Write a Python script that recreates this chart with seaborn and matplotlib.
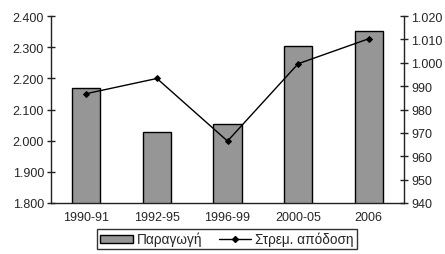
import matplotlib
matplotlib.use("Agg")
import matplotlib.pyplot as plt
import seaborn as sns
import pandas as pd
from matplotlib.ticker import FuncFormatter, FixedLocator
from matplotlib.patches import Patch
from matplotlib.lines import Line2D

categories = ["1990-91", "1992-95", "1996-99", "2000-05", "2006"]
production = [2.170, 2.027, 2.055, 2.303, 2.351]
yield_vals = [986.8, 993.3, 966.5, 999.6, 1010.3]
bar_label = "Παραγωγή"
line_label = "Στρεμ. απόδοση"

sns.set_style("white")
plt.rcParams['font.family'] = ['Liberation Sans', 'DejaVu Sans']

df = pd.DataFrame({"cat": categories, "prod": production, "yield": yield_vals})

fig = plt.figure(figsize=(4.45, 2.55), dpi=100)
ax = fig.add_axes([0.1146, 0.2, 0.908 - 0.1146, 0.733])
sns.barplot(data=df, x="cat", y="prod", ax=ax, color="#969696",
            edgecolor="black", linewidth=1, width=0.4, saturation=1)
ax.set_ylim(1.8, 2.4)
ax.set_yticks([1.8, 1.9, 2.0, 2.1, 2.2, 2.3, 2.4])
ax.yaxis.set_major_formatter(FuncFormatter(lambda v, p: f"{v:.3f}"))
ax.set_xlim(-0.5, 4.5)
ax.set_xlabel("")
ax.set_ylabel("")

ax2 = ax.twinx()
sns.pointplot(data=df, x="cat", y="yield", ax=ax2, color="black",
              markers="D", markersize=3, linewidth=1, errorbar=None)
ax2.set_ylim(940, 1020)
ax2.set_yticks(list(range(940, 1021, 10)))
ax2.yaxis.set_major_formatter(FuncFormatter(
    lambda v, p: f"{int(v):,}".replace(",", ".")))
ax2.set_xlim(-0.5, 4.5)
ax2.set_xlabel("")
ax2.set_ylabel("")

for a in (ax, ax2):
    a.spines['top'].set_visible(False)
    for s in ('left', 'right', 'bottom'):
        a.spines[s].set_color('#222222')
        a.spines[s].set_linewidth(1)
ax.spines['right'].set_visible(False)
ax2.spines['left'].set_visible(False)
ax2.spines['bottom'].set_visible(False)

ax.tick_params(axis='y', direction='inout', length=6, width=1, labelsize=9,
               color='#222222', pad=2)
ax2.tick_params(axis='y', direction='inout', length=6, width=1, labelsize=9,
                color='#222222', pad=2)
ax.tick_params(axis='x', length=0, labelsize=9, pad=6)
ax.xaxis.set_minor_locator(FixedLocator([0.5, 1.5, 2.5, 3.5]))
ax.tick_params(axis='x', which='minor', direction='inout', length=6, width=1,
               color='#222222')

handles = [Patch(facecolor="#969696", edgecolor="black", linewidth=1, label=bar_label),
           Line2D([0], [0], color="black", lw=1, marker="D", markersize=3, label=line_label)]
leg = fig.legend(handles=handles, loc="center", bbox_to_anchor=(0.51, 0.058),
                 ncol=2, frameon=True, fancybox=False, fontsize=9.8,
                 handlelength=2.4, handleheight=0.55, columnspacing=1.2,
                 handletextpad=0.3, borderpad=0.2, borderaxespad=0)
leg.get_frame().set_edgecolor("black")
leg.get_frame().set_linewidth(1)

fig.savefig("out.png", dpi=100)
